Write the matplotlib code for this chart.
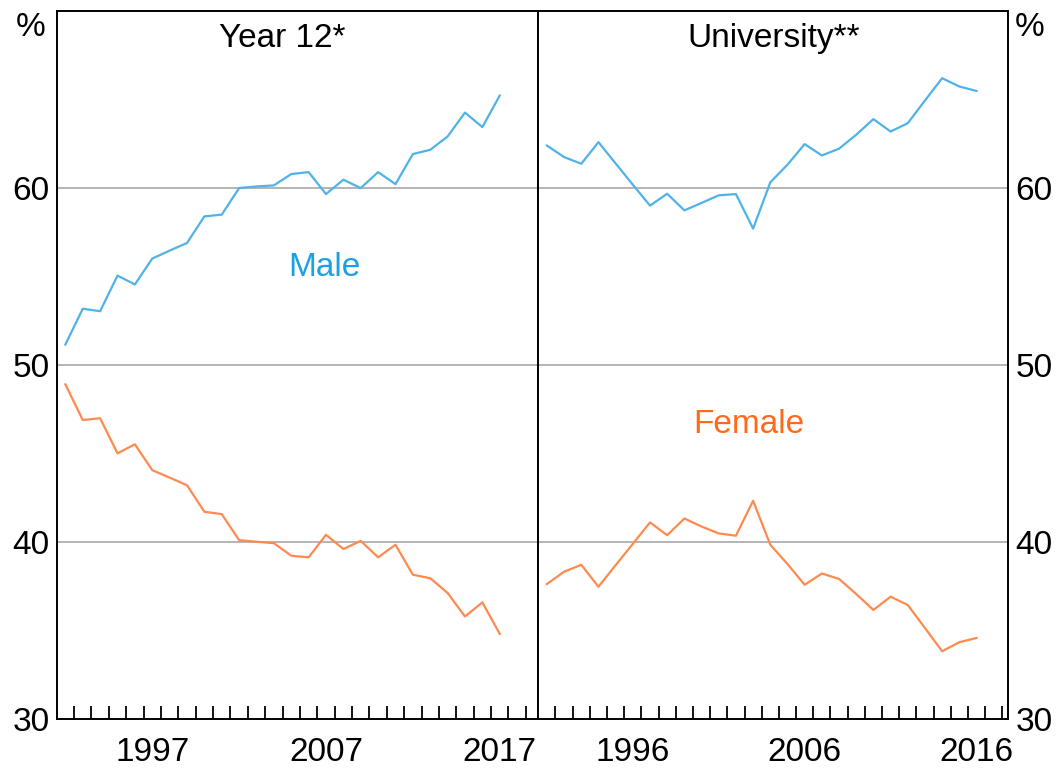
import matplotlib
matplotlib.use('Agg')
import matplotlib.pyplot as plt
from matplotlib.ticker import FixedLocator, NullFormatter

plt.rcParams['font.family'] = ['Liberation Sans', 'DejaVu Sans']

# ── DATA ────────────────────────────────────────
yr12_years = list(range(1992, 2018))
yr12_male = [51.15, 53.17, 53.03, 55.04, 54.54, 56.00, 56.45, 56.88, 58.38, 58.48,
             59.98, 60.07, 60.13, 60.77, 60.88, 59.64, 60.45, 59.98, 60.88, 60.20,
             61.90, 62.14, 62.89, 64.24, 63.42, 65.20]
yr12_female = [48.90, 46.89, 46.99, 45.01, 45.52, 44.06, 43.64, 43.21, 41.71, 41.58,
               40.11, 40.02, 39.94, 39.23, 39.14, 40.41, 39.61, 40.07, 39.14, 39.85,
               38.16, 37.96, 37.13, 35.80, 36.60, 34.82]

uni_years = list(range(1991, 2017))
uni_male = [62.38, 61.73, 61.35, 62.57, 61.37, 60.17, 58.99, 59.66, 58.72, 59.14,
            59.57, 59.64, 57.69, 60.30, 61.30, 62.46, 61.82, 62.20, 62.99, 63.87,
            63.17, 63.64, 64.92, 66.18, 65.71, 65.46]
uni_female = [37.63, 38.33, 38.72, 37.48, 38.70, 39.90, 41.11, 40.39, 41.33, 40.88,
              40.49, 40.36, 42.33, 39.85, 38.76, 37.59, 38.23, 37.92, 37.07, 36.17,
              36.92, 36.45, 35.15, 33.84, 34.35, 34.59]

yr12_labels = [1997, 2007, 2017]
uni_labels = [1996, 2006, 2016]
y_ticks = [30, 40, 50, 60]

# ── STYLE ───────────────────────────────────────
MALE_LINE = '#4FB3E8'
FEMALE_LINE = '#FF8A50'
MALE_TEXT = '#1BA1E2'
FEMALE_TEXT = '#FF6A1A'
GRID = '#A8A8A8'
FS = 24
LW = 1.6

W, H = 1064, 771
fig = plt.figure(figsize=(W / 100, H / 100), dpi=100, facecolor='white')

x0, x1, x2 = 56.7, 538.3, 1008.3
y_bot, y_top = 719.3, 10.5
ax_l = fig.add_axes([x0 / W, 1 - y_bot / H, (x1 - x0) / W, (y_bot - y_top) / H])
ax_r = fig.add_axes([x1 / W, 1 - y_bot / H, (x2 - x1) / W, (y_bot - y_top) / H])


def style_panel(ax, labels, xlim, side):
    ax.set_xlim(*xlim)
    ax.set_ylim(30, 70)
    for s in ax.spines.values():
        s.set_linewidth(1.4)
        s.set_color('black')
    # year boundary marks
    first = int(xlim[0]) + 1
    last = int(xlim[1])
    ax.xaxis.set_minor_locator(FixedLocator(list(range(first, last + 1))))
    ax.xaxis.set_minor_formatter(NullFormatter())
    ax.tick_params(axis='x', which='minor', direction='in', length=9.5,
                   width=1.3, color='black')
    # labels sit mid-year
    ax.set_xticks([y + 0.5 for y in labels])
    ax.set_xticklabels([str(y) for y in labels])
    ax.tick_params(axis='x', which='major', length=0, pad=13, labelsize=FS)
    ax.set_yticks(y_ticks)
    ax.set_yticklabels([str(v) for v in y_ticks])
    if side == 'left':
        ax.tick_params(axis='y', length=0, pad=5, labelsize=FS,
                       left=True, labelleft=True, right=False, labelright=False)
    else:
        ax.tick_params(axis='y', length=0, pad=5, labelsize=FS,
                       left=False, labelleft=False, right=True, labelright=True)
    for v in [40, 50, 60]:
        ax.axhline(v, color=GRID, lw=1.2, zorder=1)


style_panel(ax_l, yr12_labels, (1992, 2019.72), 'left')
style_panel(ax_r, uni_labels, (1991, 2018.35), 'right')

ax_l.plot([y + 0.5 for y in yr12_years], yr12_male, color=MALE_LINE, lw=LW, zorder=3)
ax_l.plot([y + 0.5 for y in yr12_years], yr12_female, color=FEMALE_LINE, lw=LW, zorder=3)
ax_r.plot([y + 0.5 for y in uni_years], uni_male, color=MALE_LINE, lw=LW, zorder=3)
ax_r.plot([y + 0.5 for y in uni_years], uni_female, color=FEMALE_LINE, lw=LW, zorder=3)

# ── TEXT ────────────────────────────────────────
ax_l.text(0.468, 0.9485, 'Year 12*', transform=ax_l.transAxes,
          ha='center', va='baseline', fontsize=FS)
ax_r.text(0.5, 0.9485, 'University**', transform=ax_r.transAxes,
          ha='center', va='baseline', fontsize=FS)
ax_l.text(0.555, 0.6254, 'Male', transform=ax_l.transAxes,
          ha='center', va='baseline', fontsize=FS, color=MALE_TEXT)
ax_r.text(0.448, 0.4035, 'Female', transform=ax_r.transAxes,
          ha='center', va='baseline', fontsize=FS, color=FEMALE_TEXT)

fig.text(31 / W, 1 - 28 / H, '%', ha='center', va='center', fontsize=FS)
fig.text(1030 / W, 1 - 28 / H, '%', ha='center', va='center', fontsize=FS)

fig.savefig('out.png', dpi=100, facecolor='white')
